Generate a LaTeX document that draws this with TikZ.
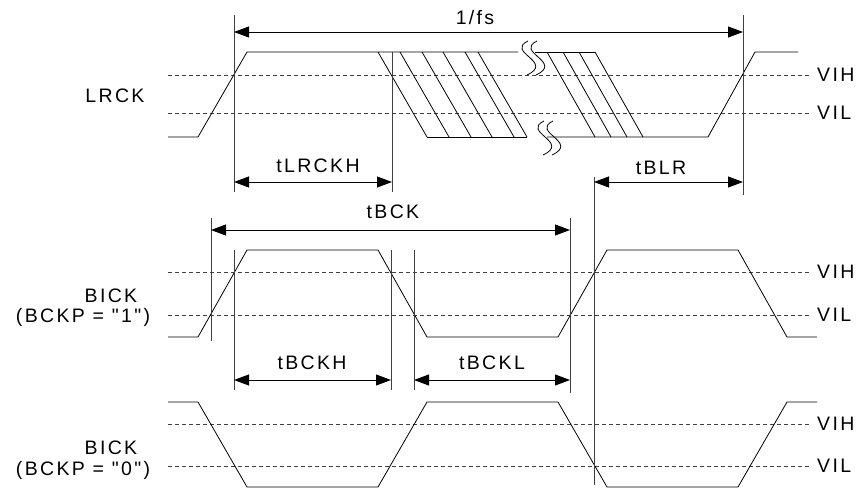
\documentclass[tikz,border=0pt]{standalone}
\usepackage{fontspec}
\newfontfamily\labfont[LetterSpace=12]{Liberation Sans}
\usetikzlibrary{arrows.meta}
\tikzset{
  sig/.style={line width=0.8pt,black},
  lvl/.style={line width=0.6pt,black!75,dash pattern=on 4pt off 3pt},
  guide/.style={line width=0.8pt,black!75},
  dim/.style={line width=0.8pt,{Triangle[length=15pt,width=11pt]}-{Triangle[length=15pt,width=11pt]}},
  lbl/.style={font=\labfont\fontsize{19.5}{22}\selectfont,inner sep=0pt},
}
\begin{document}
\begin{tikzpicture}[x=1pt,y=-1pt]
\useasboundingbox (0,0) rectangle (867,494);
% threshold levels
\foreach \y in {75,113,272,315,424,466}
  \draw[lvl] (168,\y) -- (810,\y);
\node[lbl,anchor=west] (vihA) at (817,75) {VIH};
\node[lbl,anchor=west] (vilA) at (817,113) {VIL};
\node[lbl,anchor=west] (vihB) at (817,272) {VIH};
\node[lbl,anchor=west] (vilB) at (817,315) {VIL};
\node[lbl,anchor=west] (vihC) at (817,424) {VIH};
\node[lbl,anchor=west] (vilC) at (817,466) {VIL};
% signal names
\node[lbl] (lrck) at (115,96) {LRCK};
\node[lbl] (bickA) at (111,296) {BICK};
\node[lbl] (bckpA) at (83,317) {(BCKP = "1")};
\node[lbl] (bickB) at (111,448) {BICK};
\node[lbl] (bckpB) at (83,470) {(BCKP = "0")};
% LRCK
\draw[sig] (168,137) -- (198,137) -- (247,52) -- (518,52);
\draw[sig] (535,52) -- (595,52);
\draw[sig] (427,137) -- (527,137);
\draw[sig] (547,137) -- (708,137) -- (755,52) -- (798,52);
\foreach \x in {378,400,422,443,465,478}
  \draw[sig] (\x,52) -- ++(49,85);
\foreach \x in {547,563,579,595}
  \draw[sig] (\x,52) -- ++(48,85);
% breaks
\foreach \dx in {0,9}{
  \draw[sig] (528+\dx,41) .. controls (505+\dx,52) and (555+\dx,62) .. (527+\dx,75);
  \draw[sig] (544+\dx,121) .. controls (521+\dx,132) and (571+\dx,142) .. (543+\dx,155);
}
% BICK, BCKP = 1
\draw[sig] (168,337) -- (198,337) -- (247,250) -- (378,250) -- (427,337)
  -- (558,337) -- (607,250) -- (738,250) -- (787,337) -- (817,337);
% BICK, BCKP = 0
\draw[sig] (168,402) -- (198,402) -- (247,487) -- (378,487) -- (427,402)
  -- (558,402) -- (607,487) -- (738,487) -- (787,402) -- (817,402);
% guide lines
\draw[guide] (234,15) -- (234,192);
\draw[guide] (392,52) -- (392,192);
\draw[guide] (743,15) -- (743,195);
\draw[guide] (594,177) -- (594,485);
\draw[guide] (211,218) -- (211,341);
\draw[guide] (234,250) -- (234,390);
\draw[guide] (391,250) -- (391,390);
\draw[guide] (414,250) -- (414,390);
\draw[guide] (570,218) -- (570,393);
% timing arrows
\coordinate (fsL) at (234,32);   \coordinate (fsR) at (743,32);
\coordinate (lrL) at (234,182);  \coordinate (lrR) at (392,182);
\coordinate (blL) at (594,182);  \coordinate (blR) at (743,182);
\coordinate (bcL) at (211,230);  \coordinate (bcR) at (570,230);
\coordinate (bhL) at (234,380);  \coordinate (bhR) at (391,380);
\coordinate (bwL) at (414,380);  \coordinate (bwR) at (570,380);
\draw[dim] (fsL) -- (fsR);
\draw[dim] (lrL) -- (lrR);
\draw[dim] (blL) -- (blR);
\draw[dim] (bcL) -- (bcR);
\draw[dim] (bhL) -- (bhR);
\draw[dim] (bwL) -- (bwR);
\node[lbl] (fs) at (475,18) {1/fs};
\node[lbl] (tlrckh) at (318,166) {tLRCKH};
\node[lbl] (tblr) at (661,168) {tBLR};
\node[lbl] (tbck) at (393,212) {tBCK};
\node[lbl] (tbckh) at (312,363) {tBCKH};
\node[lbl] (tbckl) at (492,363) {tBCKL};
\end{tikzpicture}
\end{document}
